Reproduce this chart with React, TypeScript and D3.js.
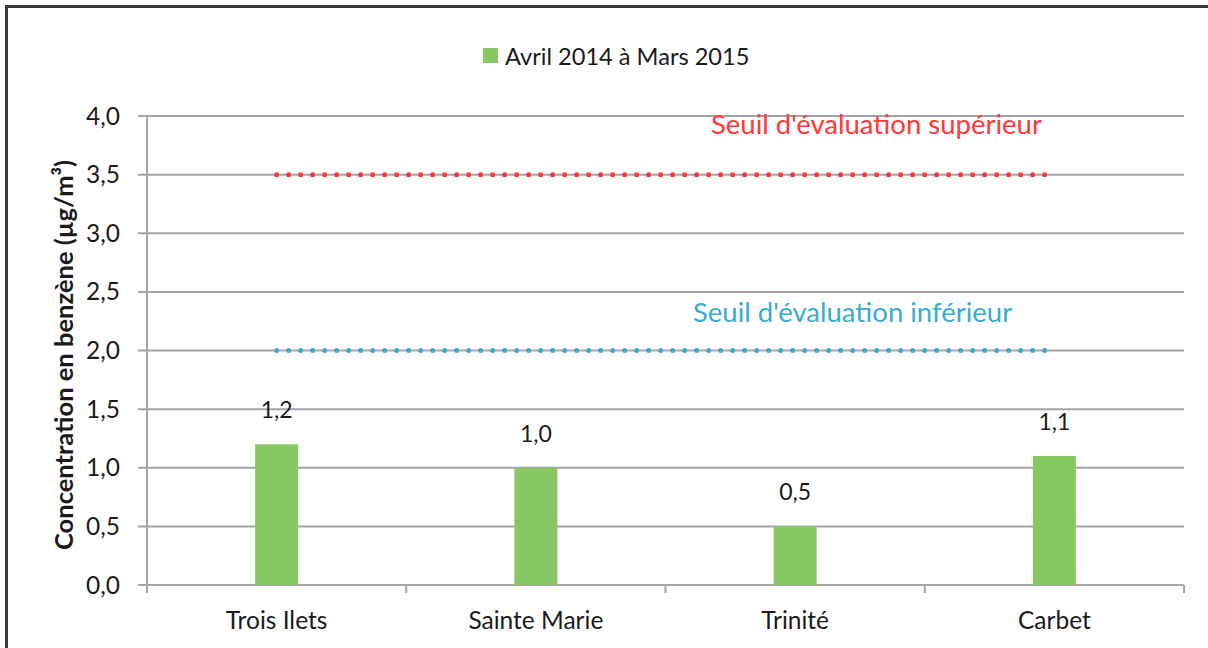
import React from 'react'
import * as d3 from 'd3'

const categories = ['Trois Ilets', 'Sainte Marie', 'Trinité', 'Carbet']
const values = [1.2, 1.0, 0.5, 1.1]
const yTicks = [0, 0.5, 1, 1.5, 2, 2.5, 3, 3.5, 4]
const seriesName = 'Avril 2014 à Mars 2015'
const thresholdLabels = ["Seuil d'évaluation supérieur", "Seuil d'évaluation inférieur"]
const thresholdValues = [3.5, 2.0]

const width = 1208
const height = 648
const font = 'Lato, "Open Sans", sans-serif'
const gridColor = '#a3a5a8'
const barColor = '#88c864'
const textColor = '#1a1a1a'
const thresholdColors = ['#ff3838', '#3aaccd']

const fmt = (v: number) => v.toFixed(1).replace('.', ',')

const App = () => {
    const margin = { left: 147, right: 1184, top: 116, bottom: 585 }

    const xScale = d3.scaleBand<string>()
        .domain(categories)
        .range([margin.left, margin.right])
    const yScale = d3.scaleLinear()
        .domain([0, 4])
        .range([margin.bottom, margin.top])

    const bw = xScale.bandwidth()
    const barW = bw * 0.166
    const center = (c: string) => (xScale(c) as number) + bw / 2
    const lineStart = center(categories[0])
    const lineEnd = center(categories[categories.length - 1])

    // band boundaries for the x-axis ticks
    const boundaries = categories.map(c => xScale(c) as number).concat([margin.right])

    // where the threshold annotations sit (start x, offset of baseline above the line)
    const labelX = [711, 693]
    const labelDy = [41, 29]

    return (
        <svg width={width} height={height} style={{ position: 'absolute', left: 0, top: 0, background: '#fff' }}>
            {/* outer frame */}
            <line x1={6.5} y1={5} x2={6.5} y2={height} stroke="#3a3a3a" strokeWidth={3} />
            <line x1={5} y1={6.5} x2={width} y2={6.5} stroke="#3a3a3a" strokeWidth={3} />

            {/* legend */}
            <rect x={483} y={48} width={15} height={15} fill={barColor} />
            <text x={505} y={65} fontFamily={font} fontSize={23.6} fill={textColor}>{seriesName}</text>

            {/* grid lines and y ticks */}
            {yTicks.map(t => (
                <g key={t}>
                    <line x1={margin.left - 9} x2={margin.right} y1={yScale(t)} y2={yScale(t)}
                        stroke={gridColor} strokeWidth={2} />
                    <text x={120} y={yScale(t) + 8.5} textAnchor="end" fontFamily={font} fontSize={24.5} fill={textColor}>
                        {fmt(t)}
                    </text>
                </g>
            ))}
            <line x1={margin.left} x2={margin.left} y1={margin.top} y2={margin.bottom + 8}
                stroke={gridColor} strokeWidth={2} />
            {boundaries.map((b, i) => (
                <line key={i} x1={b} x2={b} y1={margin.bottom} y2={margin.bottom + 8}
                    stroke={gridColor} strokeWidth={2} />
            ))}

            {/* y axis title */}
            <text transform="translate(73, 355) rotate(-90)"
                textAnchor="middle" fontFamily={font} fontSize={25.5} fontWeight="bold" fill={textColor}>
                Concentration en benzène (µg/m³)
            </text>

            {/* bars */}
            {categories.map((c, i) => (
                <g key={c}>
                    <rect x={center(c) - barW / 2} y={yScale(values[i])} width={barW}
                        height={yScale(0) - yScale(values[i])} fill={barColor} />
                    <text x={center(c)} y={yScale(values[i]) - 26} textAnchor="middle"
                        fontFamily={font} fontSize={23} fill={textColor}>{fmt(values[i])}</text>
                    <text x={center(c)} y={629} textAnchor="middle"
                        fontFamily={font} fontSize={24.5} fill={textColor}>{c}</text>
                </g>
            ))}

            {/* threshold lines */}
            {thresholdValues.map((v, i) => (
                <g key={v}>
                    <line x1={lineStart} x2={lineEnd} y1={yScale(v)} y2={yScale(v)}
                        stroke={thresholdColors[i]} strokeWidth={5} strokeLinecap="round"
                        strokeDasharray="0 12" />
                    <text x={labelX[i]} y={yScale(v) - labelDy[i]} fontFamily={font} fontSize={27.5}
                        fill={thresholdColors[i]}>{thresholdLabels[i]}</text>
                </g>
            ))}
        </svg>
    )
}

export default App
